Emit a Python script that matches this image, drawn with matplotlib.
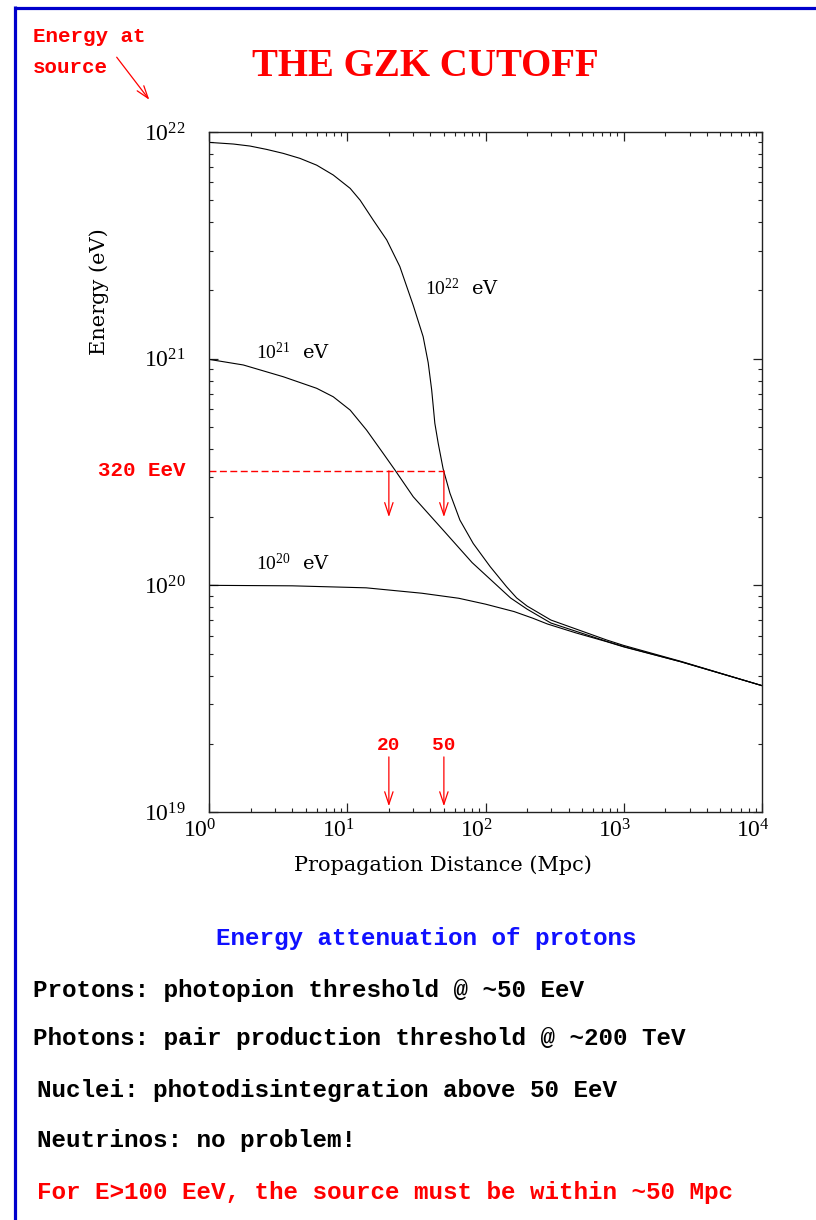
import matplotlib
matplotlib.use('Agg')
import matplotlib.pyplot as plt
import matplotlib.transforms as mtransforms
from matplotlib.lines import Line2D

#%% Data: proton energy vs propagation distance for three source energies
dist_22 = [1, 1.5, 1.98, 2.61, 3.44, 4.55, 6.01, 7.92, 10.5, 12.4, 15.4, 19.3, 24.0,
           30.0, 35.4, 38.5, 40.8, 41.9, 43.0, 45.5, 49.4, 55.3, 65.3, 81.5, 108,
           142, 168, 200, 297, 752, 1000, 2590, 10000]
energy_22 = [9.0e21, 8.85e21, 8.67e21, 8.38e21, 8.05e21, 7.65e21, 7.14e21, 6.46e21,
             5.64e21, 5.0e21, 4.09e21, 3.34e21, 2.55e21, 1.72e21, 1.25e21, 9.6e20,
             7.28e20, 6.14e20, 5.19e20, 4.23e20, 3.26e20, 2.55e20, 1.94e20, 1.53e20,
             1.21e20, 9.86e19, 8.8e19, 8.1e19, 7.03e19, 5.74e19, 5.43e19, 4.62e19,
             3.61e19]

dist_21 = [1, 1.77, 3.45, 6.01, 7.92, 10.5, 13.8, 18.2, 22.1, 30.0, 49.5, 80,
           152, 200, 297, 752, 1000, 2590, 10000]
energy_21 = [9.93e20, 9.38e20, 8.32e20, 7.40e20, 6.79e20, 5.93e20, 4.84e20, 3.82e20,
             3.23e20, 2.46e20, 1.75e20, 1.26e20, 8.79e19, 7.85e19, 6.82e19, 5.66e19,
             5.37e19, 4.60e19, 3.61e19]

dist_20 = [1, 4, 13.7, 34.6, 64, 100, 161, 220, 281, 450, 754, 1000, 2590, 10000]
energy_20 = [1.0e20, 9.95e19, 9.75e19, 9.23e19, 8.77e19, 8.26e19, 7.66e19, 7.16e19,
             6.75e19, 6.17e19, 5.64e19, 5.35e19, 4.60e19, 3.61e19]

curve_labels = ['$10^{22}$  eV', '$10^{21}$  eV', '$10^{20}$  eV']

cut_energy = 3.2e20          # 320 EeV
cut_dists = [20, 50]         # Mpc
cut_dist_labels = ['20', '50']

notes = ['Protons: photopion threshold @ ~50 EeV',
         'Photons: pair production threshold @ ~200 TeV',
         'Nuclei: photodisintegration above 50 EeV',
         'Neutrinos: no problem!']
conclusion = 'For E>100 EeV, the source must be within ~50 Mpc'

#%% Plot
plt.rcParams['font.family'] = ['Liberation Serif', 'DejaVu Serif']
plt.rcParams['mathtext.fontset'] = 'custom'
plt.rcParams['mathtext.rm'] = 'Liberation Serif'
plt.rcParams['mathtext.it'] = 'Liberation Serif:italic'

W, H = 816, 1220
fig = plt.figure(figsize=(W/100, H/100), dpi=100)
ax = fig.add_axes([209/W, 1-812/H, 553/W, 680/H])

for d, e in [(dist_22, energy_22), (dist_21, energy_21), (dist_20, energy_20)]:
    ax.plot(d, e, color='black', lw=0.8)

ax.set_xscale('log')
ax.set_yscale('log')
ax.set_xlim(1, 1e4)
ax.set_ylim(1e19, 1e22)

for s in ax.spines.values():
    s.set_linewidth(1.0)
    s.set_color('#222222')
ax.tick_params(which='both', direction='in', top=True, right=True, color='#222222')
ax.tick_params(which='major', length=6.5, width=0.9)
ax.tick_params(which='minor', length=3, width=0.8)
ax.tick_params(axis='y', which='major', pad=17, labelsize=17)
ax.tick_params(axis='x', which='major', pad=5, labelsize=17)

# shift the x tick labels a little to the left
shift = mtransforms.ScaledTranslation(-9/100, 0, fig.dpi_scale_trans)
for lab in ax.get_xticklabels():
    lab.set_transform(lab.get_transform() + shift)

ax.set_xlabel('Propagation Distance (Mpc)', fontsize=15, family='DejaVu Serif')
ax.xaxis.set_label_coords(0.423, -0.064)
ax.set_ylabel('Energy (eV)', fontsize=15, family='DejaVu Serif')
ax.yaxis.set_label_coords(-0.18, 0.765)

# curve labels
ax.text(36.5, 2.05e21, curve_labels[0], fontsize=14, family='DejaVu Serif', va='center')
ax.text(2.19, 1.06e21, curve_labels[1], fontsize=14, family='DejaVu Serif', va='center')
ax.text(2.19, 1.25e20, curve_labels[2], fontsize=14, family='DejaVu Serif', va='center')

# 320 EeV cut and the distances where it is reached
ax.plot([1, cut_dists[1]], [cut_energy, cut_energy], color='red', lw=1.0,
        dashes=(5, 2.5))
ax.text(-0.042, cut_energy, '320 EeV', transform=ax.get_yaxis_transform(),
        color='red', fontsize=15, family='Liberation Mono', weight='bold',
        ha='right', va='center')
arrow = dict(arrowstyle='->,head_length=0.9,head_width=0.3', color='red', lw=0.9,
             mutation_scale=10, shrinkA=0, shrinkB=0)
for d, lab in zip(cut_dists, cut_dist_labels):
    ax.annotate('', xy=(d, 2.0e20), xytext=(d, cut_energy), arrowprops=arrow)
    ax.annotate('', xy=(d, 1.06e19), xytext=(d, 1.75e19), arrowprops=arrow)
    ax.text(d, 1.97e19, lab, color='red', fontsize=14, family='Liberation Mono',
            weight='bold', ha='center', va='center')

#%% Page decorations
fig.text(425/W, 1-66/H, 'THE GZK CUTOFF', color='red', fontsize=28,
         family='Liberation Serif', weight='bold', ha='center', va='center')
fig.text(33/W, 1-52/H, 'Energy at\nsource', color='red', fontsize=15,
         family='Liberation Mono', weight='bold', ha='left', va='center',
         linespacing=1.75)
fig.add_artist(matplotlib.patches.FancyArrowPatch(
    (115, H-55), (151, H-102), transform=None,
    arrowstyle='->,head_length=0.9,head_width=0.3', color='red', lw=0.9,
    mutation_scale=10))

fig.text(426/W, 1-938/H, 'Energy attenuation of protons', color='#1010ff',
         fontsize=17.5, family='Liberation Mono', weight='bold', ha='center',
         va='center')
note_x = [33, 33, 37, 37]
note_y = [990, 1039, 1090, 1141]
for txt, x, y in zip(notes, note_x, note_y):
    fig.text(x/W, 1-y/H, txt, color='black', fontsize=17.5,
             family='Liberation Mono', weight='bold', ha='left', va='center')
fig.text(37/W, 1-1193/H, conclusion, color='red', fontsize=17.5,
         family='Liberation Mono', weight='bold', ha='left', va='center')

# blue frame
fig.add_artist(Line2D([14.5/W, 1], [1-7.5/H, 1-7.5/H], color='#0000cc', lw=2.3,
                      transform=fig.transFigure, solid_capstyle='butt'))
fig.add_artist(Line2D([14.5/W, 14.5/W], [0, 1-6/H], color='#0000cc', lw=2.3,
                      transform=fig.transFigure, solid_capstyle='butt'))

plt.savefig('out.png', dpi=100)
